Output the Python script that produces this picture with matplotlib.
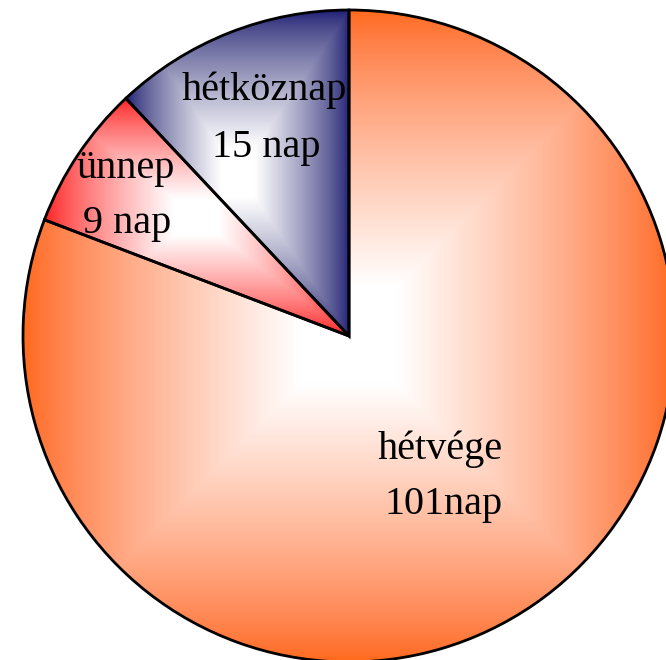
import numpy as np
import matplotlib
matplotlib.use("Agg")
import matplotlib.pyplot as plt

# adatok (pie order: counterclockwise from the top)
categories = ["hétköznap", "ünnep", "hétvége"]
values = [15, 9, 101]
value_labels = ["15 nap", "9 nap", "101nap"]
edge_colors = ["#1c1c78", "#ff1a1a", "#ff6a1a"]

# label positions (name line, value line) in data units
label_pos = [((-0.261, 0.724), (-0.255, 0.549)),
             ((-0.684, 0.485), (-0.681, 0.316)),
             ((0.279, -0.377), (0.291, -0.546))]

plt.rcParams["font.family"] = ["Liberation Serif", "DejaVu Serif"]

fig = plt.figure(figsize=(6.66, 6.60), dpi=100)
ax = fig.add_axes([0, 0, 1, 1])

wedges, _ = ax.pie(values, startangle=90, counterclock=True, radius=1.0,
                   center=(0, 0), colors=["none"] * len(values),
                   wedgeprops=dict(edgecolor="black", linewidth=2.0))


def to_lin(c):
    return np.where(c <= 0.04045, c / 12.92, ((c + 0.055) / 1.055) ** 2.4)


def to_srgb(c):
    return np.where(c <= 0.0031308, c * 12.92, 1.055 * c ** (1 / 2.4) - 0.055)


def rect_gradient(color, n=300, plateau=0.15, w_lin=0.4):
    # white in the middle, full colour at the edges of the box
    u = np.linspace(-1, 1, n)
    uu, vv = np.meshgrid(u, u)
    t = np.maximum(np.abs(uu), np.abs(vv))
    t = np.clip((t - plateau) / (1 - plateau), 0, 1)[..., None]
    c = np.array(matplotlib.colors.to_rgb(color))
    plain = (1 - t) + t * c
    lin = np.clip(to_srgb((1 - t) + t * to_lin(c)), 0, 1)
    return (1 - w_lin) * plain + w_lin * lin


for w, col in zip(wedges, edge_colors):
    w.set_facecolor("none")
    bb = w.get_path().get_extents()
    im = ax.imshow(rect_gradient(col), extent=[bb.x0, bb.x1, bb.y0, bb.y1],
                   origin="lower", interpolation="bilinear", zorder=0)
    im.set_clip_path(w)

for (p1, p2), name, lab in zip(label_pos, categories, value_labels):
    ax.text(p1[0], p1[1], name, fontsize=29, ha="center", va="baseline")
    ax.text(p2[0], p2[1], lab, fontsize=29, ha="center", va="baseline")

# centre at (349, 336) px, radius 326 px
ax.set_xlim(-349 / 326, (666 - 349) / 326)
ax.set_ylim(-(660 - 336) / 326, 336 / 326)
ax.set_aspect("equal")
ax.axis("off")

fig.savefig("out.png", dpi=100)
